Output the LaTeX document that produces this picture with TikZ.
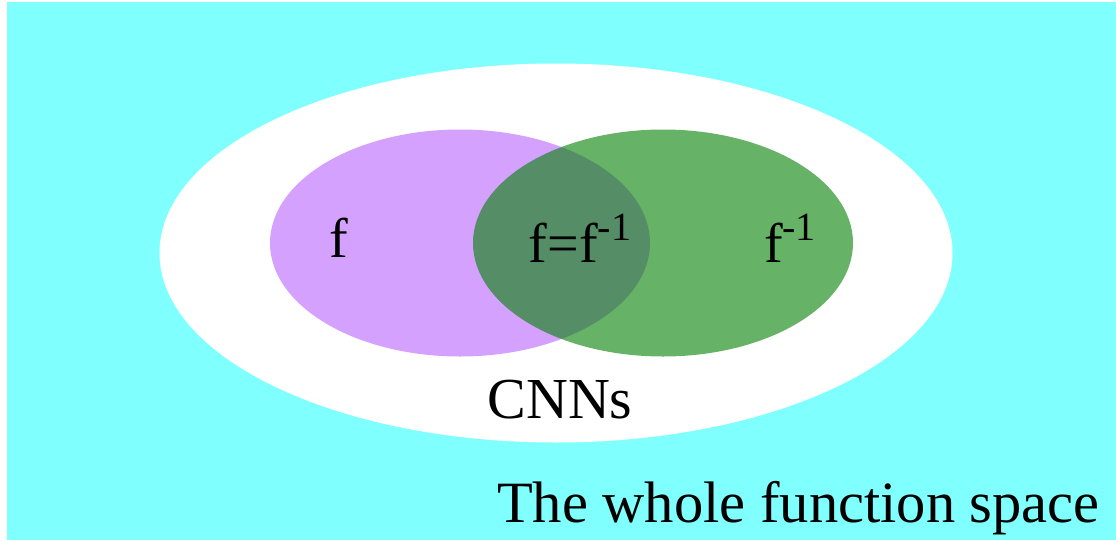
\documentclass[tikz,border=0pt]{standalone}
\usepackage{fontspec}
\setmainfont{Liberation Serif}
\usetikzlibrary{shapes.geometric}
\definecolor{spacecyan}{RGB}{128,255,255}
\definecolor{lilac}{RGB}{212,161,255}
\definecolor{darkgreen}{RGB}{0,128,0}
\newcommand{\invsup}{\raisebox{22pt}{\fontsize{40}{44}\selectfont -1}}

\begin{document}
\begin{tikzpicture}[x=1pt, y=-1pt,
set/.style={ellipse, inner sep=0pt, minimum width=380pt, minimum height=227pt},
txt/.style={inner sep=0pt, anchor=base, font=\fontsize{56}{60}\selectfont}]
\useasboundingbox (0,0) rectangle (1116,541);
\fill[spacecyan] (7,2) rectangle (1116,540);
\node[ellipse, fill=white, inner sep=0pt, minimum width=793pt, minimum height=379pt] (cnn) at (556,253) {};
\node[set, fill=lilac] (f) at (460,243) {};
\node[set, fill=darkgreen, fill opacity=0.6] (finv) at (663,243) {};
\node[txt] (flab) at (339,257) {f};
\node[txt] (bothlab) at (580,262) {f=f\invsup};
\node[txt] (finvlab) at (790,262) {f\invsup};
\node[txt, font=\fontsize{58}{62}\selectfont] (cnnlab) at (560,418) {CNNs};
\node[txt, anchor=base east, font=\fontsize{58.5}{62}\selectfont] (whole) at (1100,522) {The whole function space};
\end{tikzpicture}
\end{document}
